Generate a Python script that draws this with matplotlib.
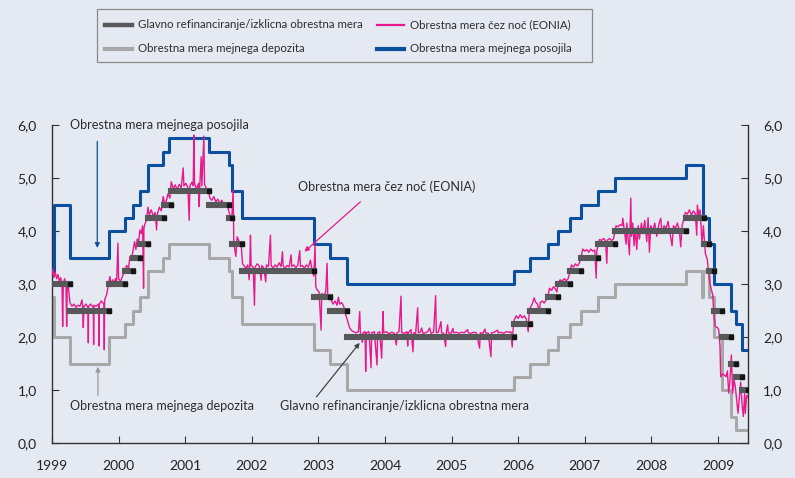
import matplotlib
matplotlib.use('Agg')
import matplotlib.pyplot as plt
from matplotlib.lines import Line2D
from matplotlib.patches import Rectangle

plt.rcParams['font.family'] = ['Lato', 'DejaVu Sans']

BG = '#e5e9f2'
BLUE = '#0b4fa0'
PINK = '#e8198b'
GREY = '#a8a8a8'
DARK = '#58585a'
TXT = '#2e2e2e'

END = 2009.45

# marginal lending facility (rate valid from date)
lend_t = [1999.00, 1999.03, 1999.27, 1999.85, 2000.09, 2000.21, 2000.32, 2000.44, 2000.67, 2000.76,
          2001.36, 2001.66, 2001.71, 2001.86, 2002.93, 2003.18, 2003.43, 2005.93, 2006.18, 2006.45,
          2006.60, 2006.78, 2006.95, 2007.20, 2007.45, 2008.52, 2008.77, 2008.865, 2008.94, 2009.19,
          2009.27, 2009.36]
lend_v = [3.25, 4.50, 3.50, 4.00, 4.25, 4.50, 4.75, 5.25, 5.50, 5.75,
          5.50, 5.25, 4.75, 4.25, 3.75, 3.50, 3.00, 3.25, 3.50, 3.75,
          4.00, 4.25, 4.50, 4.75, 5.00, 5.25, 4.25, 3.75, 3.00, 2.50,
          2.25, 1.75]

# deposit facility
depo_t = [1999.00, 1999.03, 1999.27, 1999.85, 2000.09, 2000.21, 2000.32, 2000.44, 2000.67, 2000.76,
          2001.36, 2001.66, 2001.71, 2001.86, 2002.93, 2003.18, 2003.43, 2005.93, 2006.18, 2006.45,
          2006.60, 2006.78, 2006.95, 2007.20, 2007.45, 2008.52, 2008.765, 2008.775, 2008.865, 2008.94,
          2009.055, 2009.19, 2009.27]
depo_v = [2.75, 2.00, 1.50, 2.00, 2.25, 2.50, 2.75, 3.25, 3.50, 3.75,
          3.50, 3.25, 2.75, 2.25, 1.75, 1.50, 1.00, 1.25, 1.50, 1.75,
          2.00, 2.25, 2.50, 2.75, 3.00, 3.25, 2.75, 3.25, 2.75, 2.00,
          1.00, 0.50, 0.25]

# main refinancing rate, start of each period
mro_t = [1999.00, 1999.27, 1999.85, 2000.09, 2000.21, 2000.32, 2000.44, 2000.68, 2000.78, 2001.36,
         2001.66, 2001.71, 2001.86, 2002.93, 2003.18, 2003.43, 2005.93, 2006.18, 2006.45, 2006.60,
         2006.78, 2006.95, 2007.20, 2007.45, 2008.52, 2008.79, 2008.865, 2008.94, 2009.055, 2009.19,
         2009.27, 2009.36]
mro_v = [3.00, 2.50, 3.00, 3.25, 3.50, 3.75, 4.25, 4.50, 4.75, 4.50,
         4.25, 3.75, 3.25, 2.75, 2.50, 2.00, 2.25, 2.50, 2.75, 3.00,
         3.25, 3.50, 3.75, 4.00, 4.25, 3.75, 3.25, 2.50, 2.00, 1.50,
         1.25, 1.00]

# EONIA
eonia = [
    (1999.00, 3.20), (1999.01, 3.28), (1999.03, 3.12), (1999.05, 3.22), (1999.07, 3.10), (1999.09, 3.18),
    (1999.11, 3.05), (1999.13, 3.12), (1999.15, 3.00), (1999.16, 2.20), (1999.17, 3.02), (1999.19, 3.10),
    (1999.21, 2.95), (1999.22, 2.20), (1999.23, 3.05), (1999.25, 2.90), (1999.27, 2.65), (1999.28, 2.62),
    (1999.30, 2.58), (1999.33, 2.62), (1999.36, 2.56), (1999.39, 2.60), (1999.42, 2.58), (1999.45, 2.70),
    (1999.46, 2.58), (1999.47, 2.18), (1999.48, 2.58), (1999.51, 2.62), (1999.54, 2.56), (1999.545, 1.89),
    (1999.55, 2.58), (1999.58, 2.62), (1999.62, 2.56), (1999.625, 1.86), (1999.63, 2.60), (1999.66, 2.58),
    (1999.70, 2.62), (1999.705, 1.83), (1999.71, 2.62), (1999.74, 2.68), (1999.78, 2.62), (1999.785, 1.76),
    (1999.79, 2.70), (1999.82, 2.80), (1999.85, 3.00), (1999.87, 3.14), (1999.89, 2.95), (1999.91, 3.08),
    (1999.93, 3.00), (1999.95, 3.10), (1999.97, 3.02), (1999.99, 3.77), (2000.00, 3.10), (2000.03, 3.05),
    (2000.06, 3.15), (2000.09, 3.25), (2000.12, 3.35), (2000.15, 3.30), (2000.17, 3.52), (2000.19, 3.45),
    (2000.21, 3.58), (2000.24, 3.80), (2000.26, 3.65), (2000.28, 3.85), (2000.30, 3.78), (2000.32, 4.02),
    (2000.34, 3.95), (2000.36, 4.10), (2000.375, 2.92), (2000.38, 4.05), (2000.40, 4.15), (2000.42, 4.20),
    (2000.44, 4.45), (2000.46, 4.30), (2000.49, 4.40), (2000.52, 4.28), (2000.55, 4.35), (2000.57, 4.02),
    (2000.58, 4.30), (2000.61, 4.45), (2000.64, 4.38), (2000.67, 4.65), (2000.69, 4.52), (2000.72, 4.58),
    (2000.74, 4.70), (2000.77, 4.62), (2000.79, 4.93), (2000.82, 4.80), (2000.85, 4.87), (2000.88, 4.78),
    (2000.91, 4.88), (2000.94, 4.82), (2000.97, 5.19), (2000.98, 4.85), (2001.01, 4.90), (2001.04, 4.82),
    (2001.06, 4.20), (2001.07, 4.85), (2001.10, 4.92), (2001.12, 4.85), (2001.13, 5.81), (2001.14, 4.88),
    (2001.17, 4.80), (2001.20, 4.90), (2001.21, 4.46), (2001.22, 4.88), (2001.24, 5.40), (2001.25, 4.85),
    (2001.28, 5.79), (2001.29, 4.88), (2001.32, 4.80), (2001.35, 4.78), (2001.37, 4.62), (2001.40, 4.58),
    (2001.43, 4.65), (2001.46, 4.55), (2001.49, 4.60), (2001.52, 4.52), (2001.55, 4.58), (2001.58, 4.48),
    (2001.61, 4.52), (2001.64, 4.45), (2001.67, 4.30), (2001.70, 4.25), (2001.72, 4.77), (2001.73, 3.77),
    (2001.76, 3.52), (2001.78, 3.89), (2001.81, 3.80), (2001.84, 3.75), (2001.86, 3.39), (2001.88, 3.35),
    (2001.91, 3.30), (2001.94, 3.36), (2001.96, 3.08), (2001.97, 3.35), (2001.98, 3.92), (2001.99, 3.35),
    (2002.02, 3.32), (2002.04, 2.60), (2002.05, 3.32), (2002.08, 3.38), (2002.11, 3.34), (2002.14, 3.07),
    (2002.15, 3.35), (2002.18, 3.30), (2002.21, 3.04), (2002.22, 3.36), (2002.25, 3.33), (2002.28, 3.92),
    (2002.29, 3.35), (2002.32, 3.30), (2002.35, 3.36), (2002.38, 3.32), (2002.41, 3.40), (2002.44, 3.33),
    (2002.46, 3.61), (2002.47, 3.34), (2002.50, 3.30), (2002.53, 3.35), (2002.56, 3.32), (2002.59, 3.55),
    (2002.60, 3.33), (2002.63, 3.36), (2002.66, 3.31), (2002.69, 3.35), (2002.72, 3.63), (2002.73, 3.33),
    (2002.76, 3.35), (2002.79, 3.30), (2002.82, 3.36), (2002.85, 3.32), (2002.88, 3.45), (2002.90, 3.30),
    (2002.93, 3.15), (2002.95, 3.74), (2002.96, 2.95), (2002.98, 2.89), (2003.01, 2.85), (2003.04, 2.13),
    (2003.05, 2.82), (2003.08, 2.78), (2003.11, 2.85), (2003.13, 3.39), (2003.14, 2.80), (2003.17, 2.75),
    (2003.19, 2.70), (2003.22, 2.62), (2003.25, 2.68), (2003.28, 2.60), (2003.30, 2.75), (2003.32, 2.62),
    (2003.35, 2.65), (2003.38, 2.58), (2003.40, 2.45), (2003.42, 2.38), (2003.45, 2.25), (2003.47, 2.17),
    (2003.50, 2.12), (2003.53, 2.10), (2003.56, 2.08), (2003.60, 2.10), (2003.62, 2.48), (2003.63, 2.08),
    (2003.66, 1.90), (2003.67, 2.08), (2003.70, 2.10), (2003.71, 1.35), (2003.72, 2.08), (2003.76, 2.10),
    (2003.79, 1.42), (2003.80, 2.08), (2003.84, 2.10), (2003.88, 1.47), (2003.89, 2.08), (2003.92, 2.10),
    (2003.95, 1.60), (2003.96, 2.08), (2003.97, 2.48), (2003.98, 2.08), (2004.02, 2.10), (2004.06, 2.06),
    (2004.10, 2.09), (2004.14, 2.07), (2004.17, 1.85), (2004.18, 2.08), (2004.21, 2.10), (2004.24, 2.77),
    (2004.25, 2.08), (2004.29, 2.07), (2004.33, 2.10), (2004.34, 1.83), (2004.35, 2.08), (2004.39, 2.14),
    (2004.42, 1.72), (2004.43, 2.08), (2004.46, 2.07), (2004.49, 2.55), (2004.50, 2.08), (2004.53, 2.09),
    (2004.55, 2.17), (2004.57, 2.07), (2004.61, 2.08), (2004.64, 2.10), (2004.67, 2.17), (2004.69, 2.07),
    (2004.73, 2.09), (2004.76, 2.78), (2004.77, 2.08), (2004.80, 2.09), (2004.84, 2.29), (2004.85, 2.08),
    (2004.88, 2.07), (2004.91, 1.82), (2004.92, 2.08), (2004.94, 2.23), (2004.95, 2.08), (2004.99, 2.07),
    (2005.02, 2.16), (2005.03, 2.08), (2005.07, 2.09), (2005.11, 2.07), (2005.15, 2.09), (2005.19, 2.08),
    (2005.24, 2.14), (2005.25, 2.08), (2005.29, 2.07), (2005.33, 2.09), (2005.37, 2.08), (2005.42, 1.79),
    (2005.43, 2.08), (2005.47, 2.07), (2005.50, 2.15), (2005.51, 2.08), (2005.55, 2.07), (2005.59, 1.63),
    (2005.60, 2.08), (2005.64, 2.09), (2005.69, 2.13), (2005.70, 2.08), (2005.74, 2.09), (2005.78, 2.07),
    (2005.82, 2.10), (2005.86, 2.09), (2005.89, 2.10), (2005.91, 1.81), (2005.92, 2.10), (2005.94, 2.32),
    (2005.97, 2.40), (2006.00, 2.35), (2006.03, 2.42), (2006.06, 2.36), (2006.09, 2.40), (2006.12, 2.34),
    (2006.15, 2.10), (2006.16, 2.38), (2006.18, 2.55), (2006.21, 2.62), (2006.24, 2.74), (2006.26, 2.66),
    (2006.29, 2.62), (2006.32, 2.45), (2006.33, 2.65), (2006.36, 2.68), (2006.39, 2.64), (2006.42, 2.70),
    (2006.45, 2.80), (2006.47, 2.92), (2006.50, 2.88), (2006.53, 2.95), (2006.56, 2.90), (2006.58, 2.85),
    (2006.60, 3.02), (2006.63, 3.08), (2006.66, 3.05), (2006.69, 3.10), (2006.72, 3.06), (2006.75, 3.10),
    (2006.78, 3.25), (2006.80, 3.36), (2006.83, 3.32), (2006.86, 3.38), (2006.89, 3.34), (2006.92, 3.40),
    (2006.95, 3.55), (2006.97, 3.66), (2007.00, 3.62), (2007.03, 3.65), (2007.06, 3.60), (2007.09, 3.66),
    (2007.12, 3.62), (2007.15, 3.64), (2007.17, 3.11), (2007.18, 3.62), (2007.20, 3.75), (2007.22, 3.84),
    (2007.25, 3.82), (2007.28, 3.86), (2007.31, 3.82), (2007.33, 3.39), (2007.34, 3.83), (2007.37, 3.86),
    (2007.40, 3.82), (2007.43, 3.85), (2007.45, 3.98), (2007.47, 4.10), (2007.50, 4.08), (2007.53, 4.12),
    (2007.56, 4.10), (2007.57, 4.24), (2007.59, 4.05), (2007.62, 3.75), (2007.63, 4.15), (2007.65, 3.85),
    (2007.67, 3.55), (2007.68, 4.05), (2007.69, 4.62), (2007.70, 3.90), (2007.72, 4.15), (2007.74, 3.72),
    (2007.76, 4.05), (2007.78, 3.65), (2007.80, 4.10), (2007.82, 3.85), (2007.85, 4.15), (2007.87, 3.95),
    (2007.90, 4.20), (2007.93, 3.80), (2007.95, 4.25), (2007.97, 3.60), (2007.99, 4.10), (2008.02, 4.00),
    (2008.05, 4.15), (2008.08, 3.90), (2008.11, 4.12), (2008.14, 4.24), (2008.16, 3.95), (2008.19, 4.10),
    (2008.22, 4.05), (2008.25, 4.18), (2008.28, 3.95), (2008.31, 3.72), (2008.33, 4.10), (2008.36, 4.05),
    (2008.39, 4.15), (2008.42, 4.00), (2008.44, 3.70), (2008.46, 4.10), (2008.48, 4.20), (2008.51, 4.35),
    (2008.54, 4.32), (2008.57, 4.40), (2008.60, 4.30), (2008.63, 4.38), (2008.66, 4.32), (2008.68, 3.92),
    (2008.69, 4.49), (2008.71, 4.30), (2008.73, 4.40), (2008.76, 3.77), (2008.78, 4.10), (2008.81, 3.58),
    (2008.84, 3.45), (2008.86, 3.20), (2008.88, 3.01), (2008.90, 2.89), (2008.92, 2.80), (2008.94, 2.38),
    (2008.96, 2.20), (2008.99, 2.18), (2009.01, 2.14), (2009.03, 1.82), (2009.04, 1.25), (2009.07, 1.30),
    (2009.10, 1.28), (2009.12, 1.25), (2009.14, 1.36), (2009.16, 0.94), (2009.18, 1.20), (2009.20, 1.66),
    (2009.22, 0.94), (2009.24, 1.20), (2009.26, 1.06), (2009.28, 0.80), (2009.30, 0.56), (2009.32, 0.85),
    (2009.34, 1.15), (2009.36, 0.75), (2009.38, 0.50), (2009.40, 0.94), (2009.41, 0.56), (2009.43, 0.90),
    (2009.45, 0.86),
]
eonia_t = [p[0] for p in eonia]
eonia_v = [p[1] for p in eonia]

years = list(range(1999, 2010))
yticks = [0, 1, 2, 3, 4, 5, 6]

leg_labels = ['Glavno refinanciranje/izklicna obrestna mera', 'Obrestna mera čez noč (EONIA)',
              'Obrestna mera mejnega depozita', 'Obrestna mera mejnega posojila']

W, H = 795, 478
fig = plt.figure(figsize=(W / 100, H / 100), dpi=100, facecolor=BG)
ax = fig.add_axes([52 / W, 35 / H, 696 / W, 318 / H])
ax.set_facecolor(BG)

# step lines
ax.step(depo_t + [END], depo_v + [depo_v[-1]], where='post', color=GREY, lw=2.2, zorder=2)
ax.step(lend_t + [END], lend_v + [lend_v[-1]], where='post', color=BLUE, lw=2.2, zorder=3)
ax.plot(eonia_t, eonia_v, color=PINK, lw=1.0, zorder=4)

# main refinancing rate bars with end marker
mro_end = mro_t[1:] + [END]
for s, e, v in zip(mro_t, mro_end, mro_v):
    ax.plot([s, e], [v, v], color=DARK, lw=4.4, solid_capstyle='projecting', zorder=5)
ax.plot(mro_end, mro_v, 's', color='#151515', ms=2.4, zorder=6)

ax.set_xlim(1999, END)
ax.set_ylim(0, 6)
ax.set_xticks(years)
ax.set_xticklabels([str(y) for y in years])
ax.set_yticks(yticks)
ax.set_yticklabels([f'{v:.1f}'.replace('.', ',') for v in yticks])
ax.spines['top'].set_visible(False)
for s in ['left', 'right', 'bottom']:
    ax.spines[s].set_color('#333333')
    ax.spines[s].set_linewidth(1)
ax.tick_params(axis='y', direction='in', length=5, left=True, right=True,
               labelleft=True, labelright=True, labelsize=10, pad=11, colors='#333333', labelcolor='#222222')
ax.tick_params(axis='x', direction='in', length=5, labelsize=10, pad=12, colors='#333333', labelcolor='#222222')

# annotations
fs = 9.1
ax.text(1999.27, 6.0, 'Obrestna mera mejnega posojila', fontsize=fs, va='center', color=TXT)
ax.text(1999.27, 0.70, 'Obrestna mera mejnega depozita', fontsize=fs, va='center', color=TXT)
ax.text(2002.69, 4.83, 'Obrestna mera čez noč (EONIA)', fontsize=fs, va='center', color=TXT)
ax.text(2002.43, 0.70, 'Glavno refinanciranje/izklicna obrestna mera', fontsize=fs, va='center', color=TXT)

def arrow(x0, y0, x1, y1, c):
    ax.annotate('', xy=(x1, y1), xytext=(x0, y0),
                arrowprops=dict(arrowstyle='-|>', color=c, lw=0.9, mutation_scale=7,
                                shrinkA=0, shrinkB=0), zorder=7)

arrow(1999.68, 5.69, 1999.68, 3.68, BLUE)
arrow(1999.69, 0.90, 1999.69, 1.44, '#9a9a9a')
arrow(2003.63, 4.55, 2002.79, 3.61, PINK)
arrow(2002.97, 0.87, 2003.62, 1.89, '#444444')

# legend box drawn in figure pixels
def fx(x):
    return x / W

def fy(y):
    return 1 - y / H

fig.add_artist(Rectangle((fx(97), fy(62)), fx(592) - fx(97), fy(9) - fy(62),
                         transform=fig.transFigure, fill=False, edgecolor='#8a8a8a', lw=0.9))
leg_pos = [(105, 25), (377, 25), (105, 49), (377, 49)]
leg_style = [(DARK, 3.2), (PINK, 1.6), (GREY, 3.0), (BLUE, 3.0)]
for (x, y), (c, lw), lab in zip(leg_pos, leg_style, leg_labels):
    fig.add_artist(Line2D([fx(x), fx(x + 27)], [fy(y), fy(y)], transform=fig.transFigure, color=c, lw=lw))
    fig.text(fx(x + 33), fy(y), lab, fontsize=8.3, va='center', color=TXT)

fig.savefig('out.png', dpi=100, facecolor=BG)
